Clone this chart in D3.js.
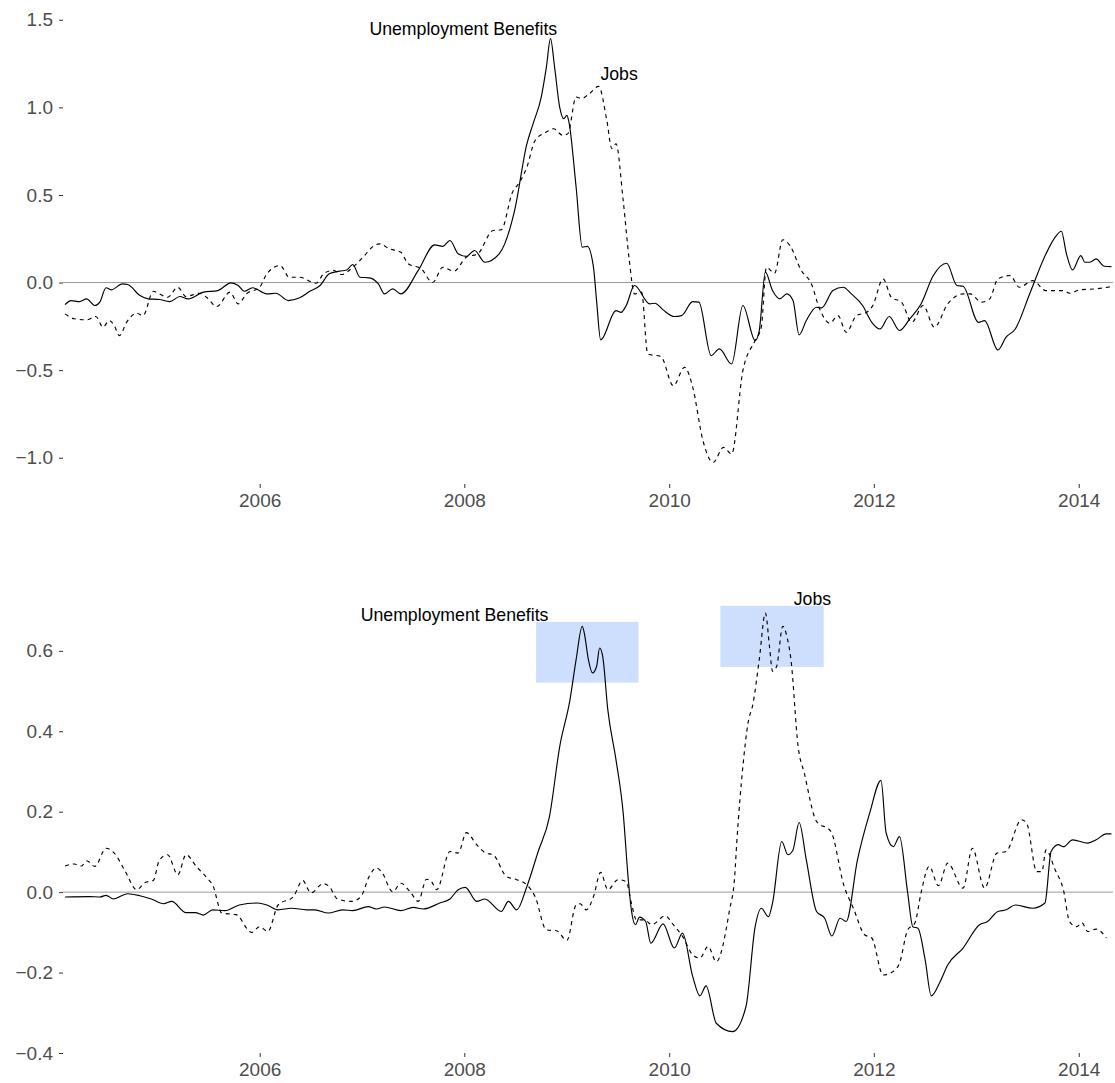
<!DOCTYPE html>
<html><head><meta charset="utf-8">
<script src="https://cdn.jsdelivr.net/npm/d3@7"></script>
<style>body{margin:0;background:#fff}svg{display:block}</style>
</head><body>
<svg id="chart" width="1115" height="1083"></svg>
<script>
// ---------- DATA (decimal year, value) ----------
const topBenefits = [[2004.10,-0.126],[2004.16,-0.103],[2004.24,-0.109],[2004.31,-0.093],[2004.39,-0.131],[2004.44,-0.11],[2004.50,-0.03],[2004.55,-0.042],[2004.66,-0.008],[2004.71,-0.011],[2004.83,-0.074],[2004.91,-0.093],[2005.02,-0.097],[2005.12,-0.109],[2005.22,-0.08],[2005.30,-0.093],[2005.45,-0.055],[2005.59,-0.046],[2005.72,-0.002],[2005.79,-0.017],[2005.85,-0.05],[2005.93,-0.03],[2006.07,-0.065],[2006.16,-0.061],[2006.28,-0.103],[2006.39,-0.087],[2006.49,-0.05],[2006.59,-0.017],[2006.68,0.05],[2006.78,0.065],[2006.85,0.072],[2006.91,0.103],[2006.98,0.03],[2007.07,0.027],[2007.16,-0.008],[2007.22,-0.065],[2007.30,-0.036],[2007.38,-0.065],[2007.55,0.069],[2007.71,0.215],[2007.79,0.206],[2007.86,0.24],[2007.94,0.164],[2008.02,0.149],[2008.10,0.183],[2008.20,0.116],[2008.34,0.164],[2008.49,0.411],[2008.61,0.792],[2008.67,0.906],[2008.75,1.059],[2008.80,1.23],[2008.84,1.392],[2008.88,1.23],[2008.93,1.0],[2008.97,0.935],[2009.00,0.954],[2009.02,0.916],[2009.09,0.545],[2009.15,0.202],[2009.20,0.206],[2009.26,0.087],[2009.29,-0.103],[2009.33,-0.327],[2009.48,-0.16],[2009.53,-0.17],[2009.58,-0.131],[2009.66,-0.017],[2009.81,-0.122],[2009.86,-0.118],[2009.94,-0.156],[2010.05,-0.194],[2010.12,-0.189],[2010.23,-0.109],[2010.29,-0.112],[2010.41,-0.417],[2010.49,-0.379],[2010.61,-0.465],[2010.72,-0.131],[2010.84,-0.331],[2010.88,-0.274],[2010.94,0.059],[2011.01,-0.046],[2011.08,-0.093],[2011.15,-0.065],[2011.21,-0.103],[2011.27,-0.299],[2011.34,-0.217],[2011.44,-0.141],[2011.49,-0.145],[2011.60,-0.046],[2011.70,-0.027],[2011.78,-0.065],[2011.89,-0.131],[2011.98,-0.227],[2012.06,-0.265],[2012.15,-0.194],[2012.25,-0.274],[2012.35,-0.208],[2012.46,-0.122],[2012.58,0.04],[2012.71,0.11],[2012.81,-0.017],[2012.87,-0.021],[2013.02,-0.227],[2013.08,-0.217],[2013.21,-0.385],[2013.29,-0.312],[2013.38,-0.265],[2013.52,-0.065],[2013.68,0.164],[2013.77,0.259],[2013.83,0.293],[2013.88,0.164],[2013.94,0.072],[2014.02,0.154],[2014.06,0.116],[2014.11,0.116],[2014.17,0.135],[2014.25,0.093],[2014.32,0.091]];

const topJobs = [[2004.10,-0.179],[2004.19,-0.207],[2004.31,-0.213],[2004.40,-0.194],[2004.47,-0.255],[2004.53,-0.217],[2004.58,-0.246],[2004.63,-0.303],[2004.70,-0.227],[2004.80,-0.175],[2004.86,-0.189],[2004.96,-0.05],[2005.02,-0.065],[2005.10,-0.084],[2005.20,-0.027],[2005.28,-0.08],[2005.41,-0.061],[2005.48,-0.084],[2005.58,-0.137],[2005.71,-0.055],[2005.79,-0.122],[2005.87,-0.065],[2006.00,-0.027],[2006.07,0.05],[2006.20,0.097],[2006.29,0.03],[2006.39,0.03],[2006.55,-0.004],[2006.63,0.053],[2006.72,0.069],[2006.80,0.046],[2006.91,0.087],[2007.01,0.145],[2007.12,0.211],[2007.17,0.221],[2007.27,0.192],[2007.38,0.173],[2007.45,0.107],[2007.58,0.078],[2007.69,0.0],[2007.79,0.087],[2007.90,0.065],[2008.02,0.145],[2008.13,0.164],[2008.28,0.297],[2008.36,0.301],[2008.47,0.516],[2008.54,0.573],[2008.61,0.659],[2008.69,0.811],[2008.80,0.859],[2008.87,0.878],[2008.96,0.84],[2009.01,0.85],[2009.09,1.059],[2009.14,1.05],[2009.22,1.078],[2009.31,1.12],[2009.39,0.926],[2009.44,0.764],[2009.48,0.792],[2009.55,0.469],[2009.61,0.126],[2009.66,-0.065],[2009.73,-0.055],[2009.79,-0.408],[2009.92,-0.423],[2010.04,-0.589],[2010.15,-0.484],[2010.23,-0.598],[2010.33,-0.903],[2010.43,-1.027],[2010.53,-0.941],[2010.61,-0.979],[2010.72,-0.503],[2010.84,-0.331],[2010.90,-0.255],[2010.95,0.087],[2011.03,0.053],[2011.11,0.244],[2011.18,0.211],[2011.29,0.069],[2011.39,-0.008],[2011.47,-0.15],[2011.57,-0.232],[2011.65,-0.189],[2011.73,-0.284],[2011.83,-0.189],[2011.93,-0.17],[2011.99,-0.131],[2012.09,0.021],[2012.17,-0.084],[2012.27,-0.112],[2012.37,-0.227],[2012.48,-0.131],[2012.59,-0.255],[2012.72,-0.122],[2012.87,-0.065],[2012.94,-0.065],[2013.05,-0.112],[2013.13,-0.093],[2013.21,0.021],[2013.33,0.04],[2013.42,-0.027],[2013.55,0.011],[2013.68,-0.046],[2013.85,-0.046],[2013.91,-0.061],[2014.01,-0.042],[2014.17,-0.036],[2014.32,-0.023]];

const bottomBenefits = [[2004.10,-0.012],[2004.34,-0.011],[2004.44,-0.012],[2004.50,-0.008],[2004.57,-0.017],[2004.71,-0.004],[2004.83,-0.009],[2004.94,-0.017],[2005.06,-0.029],[2005.14,-0.023],[2005.28,-0.051],[2005.37,-0.051],[2005.45,-0.057],[2005.54,-0.044],[2005.66,-0.046],[2005.80,-0.032],[2005.98,-0.027],[2006.07,-0.032],[2006.18,-0.044],[2006.31,-0.04],[2006.46,-0.044],[2006.54,-0.044],[2006.67,-0.052],[2006.81,-0.044],[2006.91,-0.046],[2007.06,-0.036],[2007.14,-0.042],[2007.22,-0.037],[2007.38,-0.046],[2007.50,-0.038],[2007.60,-0.042],[2007.76,-0.027],[2007.86,-0.017],[2007.94,0.006],[2008.01,0.012],[2008.12,-0.023],[2008.20,-0.017],[2008.36,-0.048],[2008.43,-0.023],[2008.51,-0.044],[2008.61,0.014],[2008.72,0.101],[2008.83,0.188],[2008.93,0.362],[2009.03,0.478],[2009.09,0.578],[2009.15,0.661],[2009.17,0.644],[2009.21,0.578],[2009.25,0.545],[2009.29,0.561],[2009.32,0.607],[2009.35,0.586],[2009.40,0.453],[2009.48,0.329],[2009.55,0.197],[2009.60,0.031],[2009.63,-0.044],[2009.67,-0.081],[2009.71,-0.062],[2009.77,-0.073],[2009.82,-0.127],[2009.94,-0.079],[2010.05,-0.139],[2010.13,-0.102],[2010.23,-0.21],[2010.30,-0.258],[2010.36,-0.233],[2010.46,-0.326],[2010.62,-0.347],[2010.75,-0.285],[2010.84,-0.086],[2010.90,-0.04],[2010.97,-0.061],[2011.01,-0.027],[2011.10,0.126],[2011.16,0.093],[2011.21,0.105],[2011.27,0.173],[2011.34,0.08],[2011.44,-0.048],[2011.52,-0.065],[2011.59,-0.109],[2011.67,-0.065],[2011.73,-0.073],[2011.84,0.08],[2011.96,0.197],[2012.07,0.278],[2012.12,0.147],[2012.19,0.113],[2012.25,0.138],[2012.33,-0.002],[2012.38,-0.086],[2012.43,-0.09],[2012.50,-0.168],[2012.56,-0.258],[2012.64,-0.226],[2012.72,-0.181],[2012.87,-0.139],[2013.03,-0.081],[2013.11,-0.073],[2013.21,-0.048],[2013.29,-0.044],[2013.38,-0.032],[2013.55,-0.04],[2013.67,-0.027],[2013.73,0.101],[2013.80,0.118],[2013.85,0.113],[2013.94,0.13],[2014.09,0.122],[2014.17,0.13],[2014.27,0.145],[2014.32,0.145]];

const bottomJobs = [[2004.10,0.065],[2004.19,0.07],[2004.26,0.065],[2004.31,0.078],[2004.39,0.064],[2004.50,0.109],[2004.58,0.097],[2004.68,0.055],[2004.80,0.006],[2004.88,0.024],[2004.96,0.029],[2005.02,0.08],[2005.10,0.093],[2005.20,0.043],[2005.28,0.093],[2005.38,0.064],[2005.50,0.031],[2005.54,0.018],[2005.63,-0.052],[2005.77,-0.056],[2005.92,-0.1],[2006.00,-0.086],[2006.08,-0.098],[2006.18,-0.032],[2006.33,-0.011],[2006.42,0.029],[2006.50,-0.002],[2006.62,0.021],[2006.68,0.014],[2006.76,-0.017],[2006.90,-0.023],[2006.99,-0.011],[2007.07,0.039],[2007.14,0.06],[2007.19,0.051],[2007.30,0.001],[2007.38,0.022],[2007.47,0.001],[2007.55,-0.023],[2007.63,0.032],[2007.68,0.026],[2007.73,0.006],[2007.86,0.101],[2007.94,0.097],[2008.02,0.148],[2008.12,0.118],[2008.21,0.097],[2008.28,0.093],[2008.41,0.039],[2008.51,0.031],[2008.61,0.018],[2008.69,-0.011],[2008.80,-0.094],[2008.90,-0.096],[2009.00,-0.12],[2009.09,-0.032],[2009.13,-0.029],[2009.19,-0.044],[2009.26,-0.011],[2009.33,0.049],[2009.40,0.006],[2009.50,0.031],[2009.58,0.026],[2009.63,-0.027],[2009.68,-0.069],[2009.76,-0.069],[2009.83,-0.081],[2009.96,-0.059],[2010.04,-0.081],[2010.13,-0.11],[2010.23,-0.156],[2010.30,-0.164],[2010.38,-0.135],[2010.46,-0.173],[2010.59,-0.044],[2010.64,0.039],[2010.66,0.122],[2010.72,0.312],[2010.77,0.42],[2010.82,0.47],[2010.88,0.578],[2010.94,0.694],[2010.98,0.611],[2011.01,0.549],[2011.05,0.561],[2011.11,0.661],[2011.15,0.636],[2011.19,0.578],[2011.26,0.362],[2011.32,0.296],[2011.44,0.176],[2011.58,0.151],[2011.71,0.014],[2011.80,-0.04],[2011.91,-0.106],[2011.98,-0.114],[2012.09,-0.206],[2012.19,-0.197],[2012.25,-0.177],[2012.33,-0.094],[2012.40,-0.077],[2012.46,-0.002],[2012.54,0.064],[2012.63,0.016],[2012.72,0.072],[2012.87,0.01],[2012.96,0.109],[2013.08,0.01],[2013.20,0.097],[2013.29,0.101],[2013.44,0.18],[2013.49,0.172],[2013.59,0.051],[2013.64,0.051],[2013.68,0.105],[2013.77,0.055],[2013.85,0.006],[2013.91,-0.073],[2013.98,-0.086],[2014.03,-0.076],[2014.09,-0.098],[2014.17,-0.092],[2014.27,-0.114]];

const xTickYears = [2006, 2008, 2010, 2012, 2014];
const topYTicks = [-1.0, -0.5, 0.0, 0.5, 1.0, 1.5];
const bottomYTicks = [-0.4, -0.2, 0.0, 0.2, 0.4, 0.6];

const topLabels = [
  {text: "Unemployment Benefits", date: 2007.99, value: 1.446},
  {text: "Jobs", date: 2009.51, value: 1.193}
];
const bottomLabels = [
  {text: "Unemployment Benefits", date: 2007.905, value: 0.689},
  {text: "Jobs", date: 2011.40, value: 0.730}
];
const bottomHighlights = [
  {x0: 2008.70, x1: 2009.70, y0: 0.521, y1: 0.672},
  {x0: 2010.50, x1: 2011.51, y0: 0.560, y1: 0.712}
];
const xDomainYears = [2004.08, 2014.335];
const topYDomain = [-1.15, 1.51];
const bottomYDomain = [-0.4, 0.745];

// ---------- DRAWING ----------
function toDate(y) {
  const yr = Math.floor(y);
  const s = new Date(yr, 0, 1), e = new Date(yr + 1, 0, 1);
  return new Date(+s + (y - yr) * (e - s));
}

const svg = d3.select("#chart");
const FONT = "'Liberation Sans', Arial, Helvetica, sans-serif";
const left = 63, right = 1113;
const x = d3.scaleTime().domain(xDomainYears.map(toDate)).range([left, right]);

function drawPanel(cfg) {
  const y = d3.scaleLinear().domain(cfg.yDomain).range([cfg.bottom, cfg.top]);
  const g = svg.append("g");

  // highlight boxes
  g.selectAll("rect.hl").data(cfg.highlights || []).join("rect")
    .attr("class", "hl")
    .attr("x", d => x(toDate(d.x0)))
    .attr("width", d => x(toDate(d.x1)) - x(toDate(d.x0)))
    .attr("y", d => y(d.y1))
    .attr("height", d => y(d.y0) - y(d.y1))
    .attr("fill", "#cddffd");

  // zero line
  g.append("line")
    .attr("x1", left).attr("x2", right)
    .attr("y1", y(0)).attr("y2", y(0))
    .attr("stroke", "#9a9a9a").attr("stroke-width", 1);

  const line = d3.line()
    .x(d => x(toDate(d[0])))
    .y(d => y(d[1]))
    .curve(d3.curveMonotoneX);

  g.append("path").datum(cfg.benefits)
    .attr("d", line).attr("fill", "none")
    .attr("stroke", "#000").attr("stroke-width", 1.15)
    .attr("stroke-linejoin", "round");
  g.append("path").datum(cfg.jobs)
    .attr("d", line).attr("fill", "none")
    .attr("stroke", "#000").attr("stroke-width", 1.15)
    .attr("stroke-dasharray", "4,4");

  // annotations
  g.selectAll("text.lab").data(cfg.labels).join("text")
    .attr("class", "lab")
    .attr("x", d => x(toDate(d.date)))
    .attr("y", d => y(d.value))
    .attr("dy", "0.35em")
    .attr("text-anchor", "middle")
    .attr("font-family", FONT)
    .attr("font-size", 17.7)
    .attr("fill", "#000")
    .text(d => d.text);

  // axes
  const xa = g.append("g").attr("transform", `translate(0,${cfg.bottom})`)
    .call(d3.axisBottom(x)
      .tickValues(xTickYears.map(yr => new Date(yr, 0, 1)))
      .tickFormat(d3.timeFormat("%Y"))
      .tickSize(4).tickPadding(6));
  const ya = g.append("g").attr("transform", `translate(${left},0)`)
    .call(d3.axisLeft(y).tickValues(cfg.yTicks)
      .tickFormat(d3.format(".1f")).tickSize(4).tickPadding(6));
  [xa, ya].forEach(a => {
    a.select(".domain").remove();
    a.selectAll(".tick line").attr("stroke", "#333").attr("stroke-width", 1);
    a.selectAll(".tick text").attr("fill", "#4d4d4d")
      .attr("font-family", FONT).attr("font-size", 19);
  });
}

drawPanel({top: 18, bottom: 484, yDomain: topYDomain, yTicks: topYTicks,
  benefits: topBenefits, jobs: topJobs, labels: topLabels, highlights: []});
drawPanel({top: 592.5, bottom: 1053, yDomain: bottomYDomain, yTicks: bottomYTicks,
  benefits: bottomBenefits, jobs: bottomJobs, labels: bottomLabels, highlights: bottomHighlights});
</script>
</body></html>
